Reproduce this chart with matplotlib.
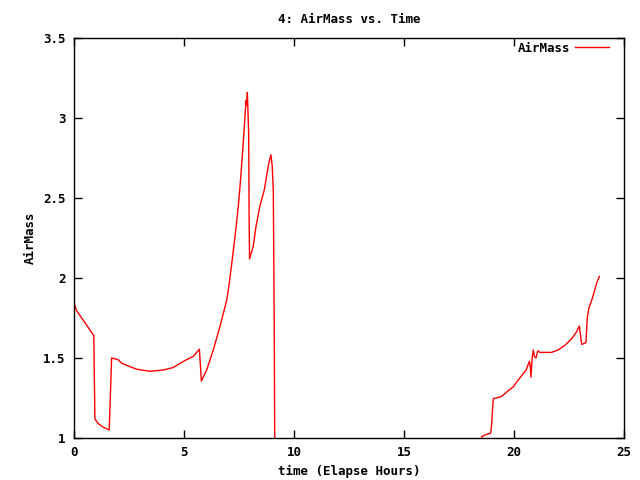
import matplotlib
matplotlib.use("Agg")
import matplotlib.pyplot as plt

time_h = [0.0, 0.1, 0.3, 0.5, 0.7, 0.85, 0.9, 0.95, 1.1, 1.3, 1.6, 1.65, 1.71,
          2.0, 2.17, 2.47, 2.85, 3.45, 4.06, 4.5, 5.12, 5.42, 5.7, 5.79, 6.03,
          6.33, 6.64, 6.94, 7.06, 7.17, 7.32, 7.47, 7.58, 7.7, 7.82, 7.85, 7.88,
          7.94, 7.96, 7.98, 8.15, 8.27, 8.45, 8.65, 8.83, 8.95, 9.01, 9.06, 9.1,
          9.14, 18.45, 18.53, 18.68, 18.94, 18.98, 19.03, 19.06, 19.29, 19.44,
          19.74, 19.97, 20.12, 20.35, 20.55, 20.7, 20.73, 20.77, 20.83, 20.88,
          20.92, 21.0, 21.08, 21.18, 21.71, 22.0, 22.32, 22.62, 22.85, 22.97,
          23.05, 23.08, 23.27, 23.33, 23.4, 23.53, 23.64, 23.76, 23.88]
airmass = [1.85, 1.80, 1.76, 1.72, 1.68, 1.65, 1.64, 1.12, 1.09, 1.07, 1.05, 1.25, 1.50,
           1.49, 1.467, 1.45, 1.43, 1.417, 1.425, 1.44, 1.49, 1.51, 1.555, 1.356, 1.425,
           1.55, 1.70, 1.86, 1.97, 2.09, 2.26, 2.45, 2.63, 2.86, 3.11, 3.08, 3.16,
           2.90, 2.38, 2.12, 2.20, 2.32, 2.45, 2.55, 2.70, 2.77, 2.70, 2.54, 1.74,
           0.5, 0.5, 1.008, 1.019, 1.03, 1.08, 1.19, 1.246, 1.254, 1.26,
           1.296, 1.32, 1.35, 1.39, 1.425, 1.48, 1.46, 1.38, 1.51, 1.55,
           1.51, 1.50, 1.545, 1.535, 1.535, 1.55, 1.58, 1.62, 1.665, 1.70,
           1.61, 1.585, 1.596, 1.75, 1.81, 1.86, 1.91, 1.97, 2.01]

x_ticks = [0, 5, 10, 15, 20, 25]
y_ticks = [1, 1.5, 2, 2.5, 3, 3.5]
y_tick_labels = ["1", "1.5", "2", "2.5", "3", "3.5"]

plt.rcParams['font.family'] = ['DejaVu Sans Mono']
plt.rcParams['font.weight'] = 'bold'

fig = plt.figure(figsize=(6.4, 4.8), dpi=100)
ax = fig.add_axes([74/640, 42/480, 550/640, 400/480])
ax.plot(time_h, airmass, color='#ff0000', linewidth=1.0, label='AirMass')
ax.set_xlim(0, 25)
ax.set_ylim(1, 3.5)
ax.set_xticks(x_ticks)
ax.set_xticklabels([str(v) for v in x_ticks])
ax.set_yticks(y_ticks)
ax.set_yticklabels(y_tick_labels)
ax.tick_params(direction='in', top=True, right=True, length=6, width=1,
               labelsize=9, pad=6)
for s in ax.spines.values():
    s.set_linewidth(1.0)
ax.set_title("4: AirMass vs. Time", fontsize=9, fontweight='bold', pad=11)
ax.set_xlabel("time (Elapse Hours)", fontsize=9, fontweight='bold', labelpad=4)
ax.set_ylabel("AirMass", fontsize=9, fontweight='bold', labelpad=4.5)
leg = ax.legend(loc='upper right', bbox_to_anchor=(0.9818, 1.003), frameon=False,
                fontsize=9, handlelength=2.75, handletextpad=0.35,
                markerfirst=False, borderaxespad=0, borderpad=0.4)
fig.savefig("out.png", dpi=100)
